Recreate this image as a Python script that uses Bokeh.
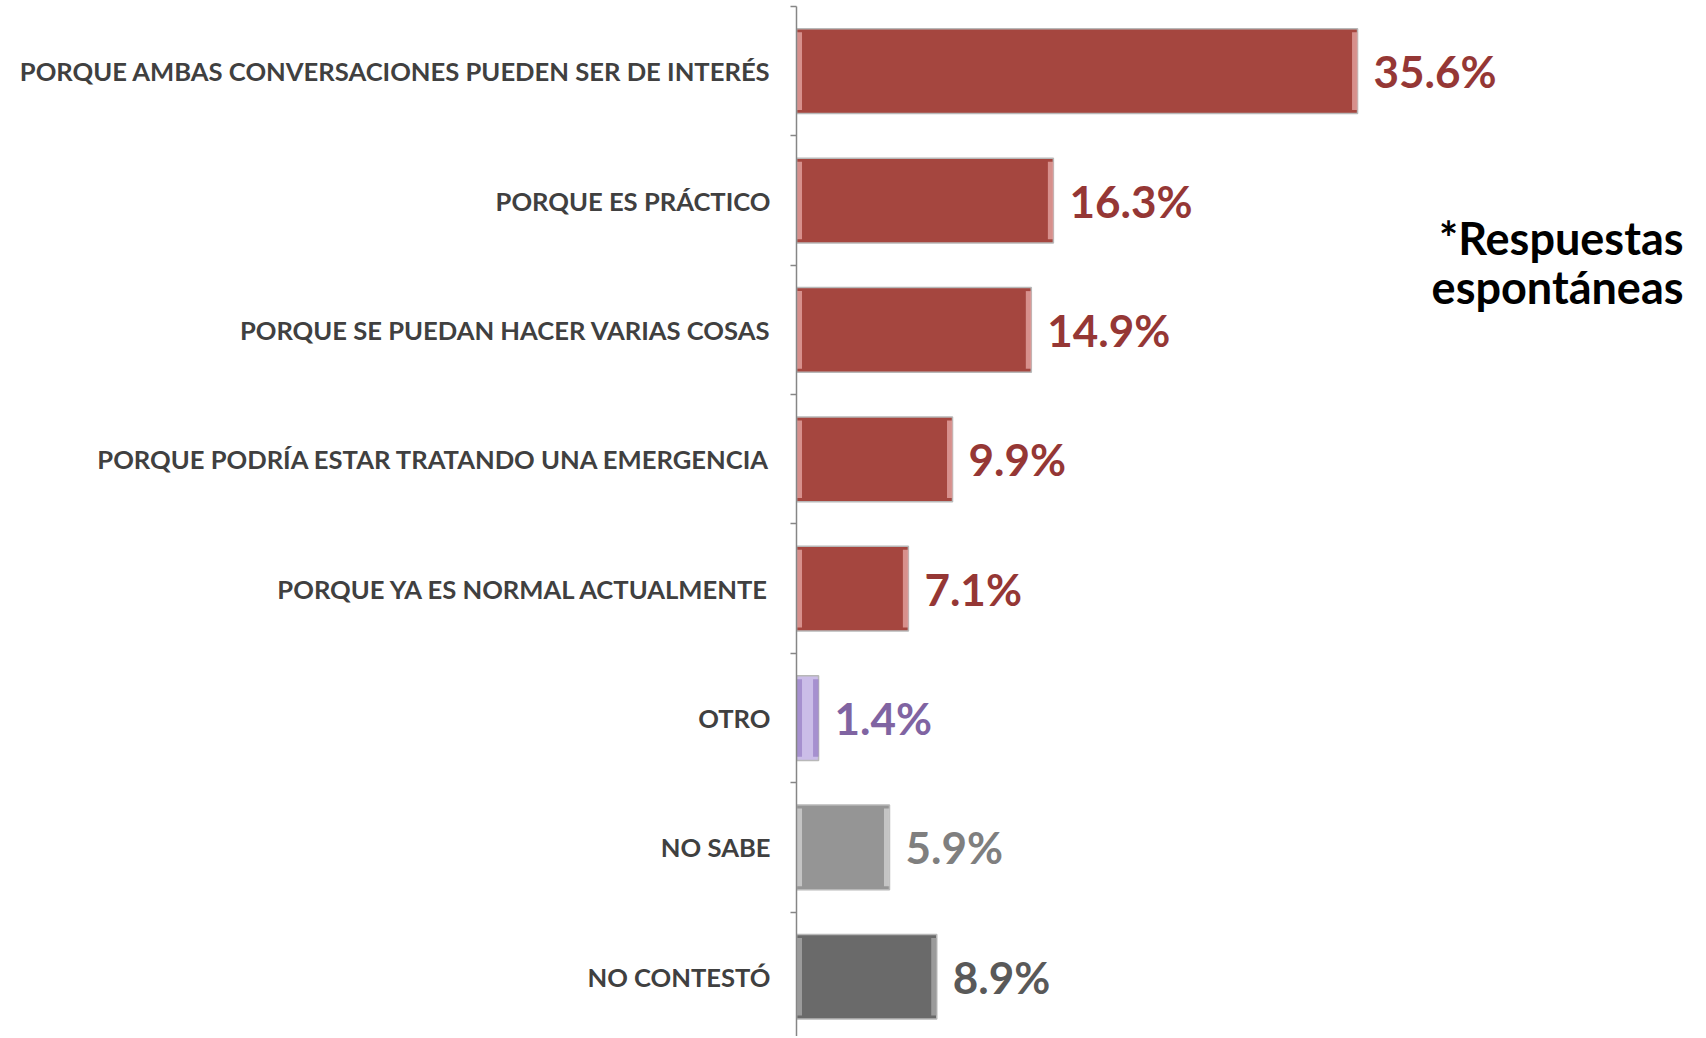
from bokeh.plotting import figure
from bokeh.models import Range1d, LinearAxis, FixedTicker, Label, ColumnDataSource
from bokeh.core.properties import value
from bokeh.embed import file_html
from bokeh.resources import INLINE

categories = [
    "PORQUE AMBAS CONVERSACIONES PUEDEN SER DE INTERÉS",
    "PORQUE ES PRÁCTICO",
    "PORQUE SE PUEDAN HACER VARIAS COSAS",
    "PORQUE PODRÍA ESTAR TRATANDO UNA EMERGENCIA",
    "PORQUE YA ES NORMAL ACTUALMENTE",
    "OTRO",
    "NO SABE",
    "NO CONTESTÓ",
]
values = [35.6, 16.3, 14.9, 9.9, 7.1, 1.4, 5.9, 8.9]
bar_colors = ["#A5463F"] * 5 + ["#CBBDE8", "#959595", "#6A6A6A"]
edge_colors = ["#E3A3A0"] * 5 + ["#9C84C8", "#D0D0D0", "#A8A8A8"]
label_colors = ["#953735"] * 5 + ["#8064A2", "#7F7F7F", "#595959"]
value_labels = [f"{v:.1f}%" for v in values]

n = len(categories)
ys = [n - i - 0.5 for i in range(n)]
bevel = 0.35
src = ColumnDataSource(dict(
    y=ys, v=values, fill=bar_colors, edge=edge_colors, lc=label_colors,
    txt=value_labels,
    lstrip_r=[min(bevel, v / 2) for v in values],
    rstrip_l=[max(v - bevel, v / 2) for v in values],
))

TOP = 6
ROW = 1022 / (n - 0.1)
FH = 1030
W, H = 1698, FH + TOP
LEFT = 796
FW = W - LEFT
PX_PER = 15.76

p = figure(width=W, height=H, output_backend="svg", toolbar_location=None,
           x_range=Range1d(0, FW / PX_PER), y_range=Range1d(n - FH / ROW, n),
           x_axis_type=None, y_axis_type=None,
           min_border_left=LEFT, min_border_right=0, min_border_top=TOP, min_border_bottom=0)
p.outline_line_color = None
p.xgrid.grid_line_color = None
p.ygrid.grid_line_color = None
p.background_fill_color = "white"

# bars
p.hbar(y="y", left=0, right="v", height=0.655, source=src, fill_color="fill",
       line_color="#B8B8B8", line_width=1.5)
p.hbar(y="y", left=0, right="lstrip_r", height=0.6, source=src, fill_color="edge",
       line_color=None, fill_alpha=0.8)
p.hbar(y="y", left="rstrip_l", right="v", height=0.6, source=src, fill_color="edge",
       line_color=None, fill_alpha=0.8)

# value labels
p.text(x="v", y="y", text="txt", source=src, x_offset=16, text_baseline="middle",
       text_align="left", text_color="lc", text_font=value("Lato"),
       text_font_style="bold", text_font_size="44px")

# axis
ax = LinearAxis(ticker=FixedTicker(ticks=ys, minor_ticks=list(range(1, n + 1))))
ax.major_label_overrides = {y: c for y, c in zip(ys, categories)}
ax.major_tick_line_color = None
ax.minor_tick_in = 0
ax.minor_tick_out = 6
ax.minor_tick_line_color = "#868686"
ax.minor_tick_line_width = 1.5
ax.axis_line_color = "#868686"
ax.axis_line_width = 1.5
ax.major_label_standoff = 20
ax.major_label_text_font = "Lato"
ax.major_label_text_font_style = "bold"
ax.major_label_text_font_size = "25.6px"
ax.major_label_text_color = "#404040"
p.add_layout(ax, "left")

# note
for txt, yy in [("*Respuestas", 237), ("espontáneas", 286)]:
    p.add_layout(Label(x=(1683 - LEFT) / PX_PER, y=n - (yy - TOP) / ROW, text=txt,
                       text_font="Lato", text_font_style="bold", text_font_size="45px",
                       text_color="#000000", text_align="right", text_baseline="middle"))

open("out.html", "w").write(file_html(p, INLINE))
